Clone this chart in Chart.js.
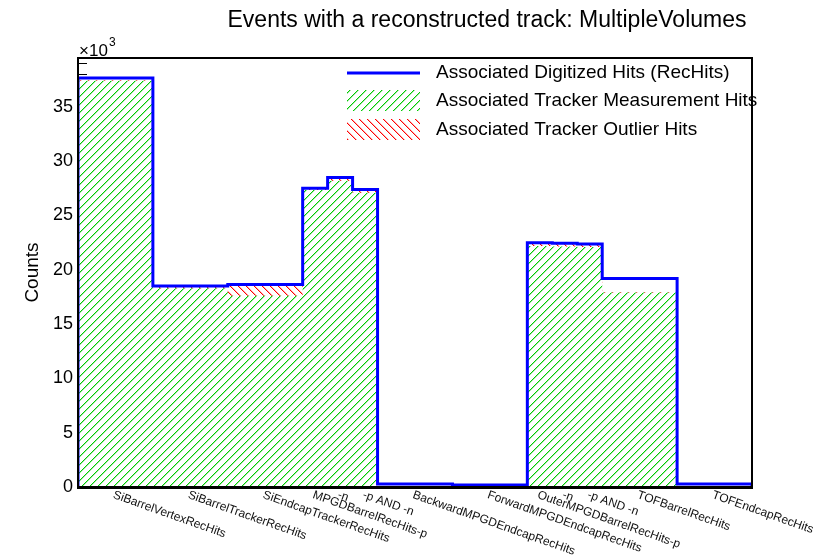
<!DOCTYPE html>
<html>
<head>
<meta charset="utf-8">
<script src="https://cdn.jsdelivr.net/npm/chart.js@4"></script>
<style>
  html, body { margin: 0; padding: 0; background: #fff; }
  #wrap { width: 829px; height: 558px; }
</style>
</head>
<body>
<div id="wrap"><canvas id="myChart" width="829" height="558"></canvas></div>
<script>
var binLabels = ["SiBarrelVertexRecHits", "SiBarrelTrackerRecHits", "SiEndcapTrackerRecHits",
  "MPGDBarrelRecHits-p", "-n", "-p AND -n", "BackwardMPGDEndcapRecHits", "ForwardMPGDEndcapRecHits",
  "OuterMPGDBarrelRecHits-p", "-n", "-p AND -n", "TOFBarrelRecHits", "TOFEndcapRecHits"];
var binEdges = [0, 3, 6, 9, 10, 11, 12, 15, 18, 19, 20, 21, 24, 27];
var recHits = [37660, 18500, 18650, 27500, 28500, 27400, 280, 180, 22500, 22440, 22370, 19200, 280];
var measHits = [37400, 18300, 17600, 27350, 28200, 27100, 0, 0, 22200, 22150, 22100, 17900, 0];
var outlierHits = [60, 150, 1000, 100, 250, 200, 0, 0, 250, 250, 250, 50, 0];
var yTicks = [0, 5000, 10000, 15000, 20000, 25000, 30000, 35000];
var yMax = 39500;

var FONT = "'Liberation Sans', Arial, Helvetica, sans-serif";

// pixel hatch tile, dir > 0 gives "/", dir < 0 gives "\"
function hatch(color, soft, dir, bg) {
  var n = 8;
  var c = document.createElement("canvas");
  c.width = n; c.height = n;
  var g = c.getContext("2d");
  if (bg) { g.fillStyle = bg; g.fillRect(0, 0, n, n); }
  for (var i = 0; i < n; i++) {
    var row = dir > 0 ? n - 1 - i : i;
    g.fillStyle = color;
    g.fillRect(i, row, 1, 1);
    if (soft) {
      g.fillStyle = soft;
      g.fillRect((i + 1) % n, row, 1, 1);
    }
  }
  return g.createPattern(c, "repeat");
}

function steps(values) {
  var pts = [{ x: binEdges[0], y: 0 }];
  values.forEach(function (v, i) { pts.push({ x: binEdges[i], y: v }); });
  pts.push({ x: binEdges[binEdges.length - 1], y: 0 });
  return pts;
}

var greenHatch = hatch("#00cc00", "#a8e8a8", 1, "#ffffff");
var greenHatchLeg = hatch("#00cc00", "#a8e8a8", 1, null);
var redHatch = hatch("#ff0000", "#ffb0b0", -1, null);

var totalOutlier = measHits.map(function (v, i) { return v + outlierHits[i]; });

var rootPlugin = {
  id: "rootStyle",
  beforeDraw: function (chart) {
    var ctx = chart.ctx;
    ctx.save();
    ctx.fillStyle = "#fff";
    ctx.fillRect(0, 0, chart.width, chart.height);
    ctx.restore();
  },
  beforeDatasetsDraw: function (chart) {
    var ctx = chart.ctx, a = chart.chartArea, y = chart.scales.y;
    ctx.save();
    ctx.strokeStyle = "#000";
    ctx.lineWidth = 1;
    for (var v = 1000; v < yMax; v += 1000) {
      var py = Math.round(y.getPixelForValue(v)) + 0.5;
      var len = v % 5000 === 0 ? 18 : 9;
      ctx.beginPath();
      ctx.moveTo(a.left, py);
      ctx.lineTo(a.left + len, py);
      ctx.stroke();
    }
    ctx.restore();
  },
  afterDatasetsDraw: function (chart) {
    var ctx = chart.ctx, a = chart.chartArea, x = chart.scales.x;
    ctx.save();
    // frame
    ctx.strokeStyle = "#000";
    ctx.lineWidth = 2;
    ctx.strokeRect(a.left, a.top, a.right - a.left, a.bottom - a.top);
    ctx.beginPath();
    ctx.lineWidth = 3;
    ctx.moveTo(a.left - 1, a.bottom + 0.5);
    ctx.lineTo(a.right + 1, a.bottom + 0.5);
    ctx.stroke();

    // x labels, rotated, starting at bin centres
    ctx.fillStyle = "#111";
    ctx.font = "12px " + FONT;
    ctx.textAlign = "left";
    ctx.textBaseline = "top";
    binLabels.forEach(function (lab, i) {
      var cx = x.getPixelForValue((binEdges[i] + binEdges[i + 1]) / 2);
      ctx.save();
      ctx.translate(cx, a.bottom + 2);
      ctx.rotate(19.5 * Math.PI / 180);
      ctx.fillText(lab, 0, 0);
      ctx.restore();
    });

    // title
    ctx.fillStyle = "#000";
    ctx.font = "23px " + FONT;
    ctx.textAlign = "center";
    ctx.textBaseline = "alphabetic";
    ctx.fillText("Events with a reconstructed track: MultipleVolumes", 487, 27);

    // exponent
    ctx.textAlign = "left";
    ctx.font = "17px " + FONT;
    ctx.fillText("\u00d710", a.left + 1, 56);
    ctx.font = "12px " + FONT;
    ctx.fillText("3", a.left + 31, 46);

    // legend
    var lx = 347, lw = 73, tx = 436;
    ctx.strokeStyle = "#0000ff";
    ctx.lineWidth = 3;
    ctx.beginPath();
    ctx.moveTo(lx, 73); ctx.lineTo(lx + lw, 73);
    ctx.stroke();
    ctx.fillStyle = greenHatchLeg;
    ctx.fillRect(lx, 90, lw, 21);
    ctx.fillStyle = redHatch;
    ctx.fillRect(lx, 119, lw, 21);
    ctx.fillStyle = "#000";
    ctx.font = "19px " + FONT;
    ctx.textBaseline = "middle";
    ctx.fillText("Associated Digitized Hits (RecHits)", tx, 73);
    ctx.fillText("Associated Tracker Measurement Hits", tx, 101);
    ctx.fillText("Associated Tracker Outlier Hits", tx, 130);
    ctx.restore();
  }
};

var myChart = document.getElementById("myChart").getContext("2d");
var chart = new Chart(myChart, {
  type: "line",
  data: {
    datasets: [
      {
        label: "Associated Digitized Hits (RecHits)",
        data: steps(recHits),
        borderColor: "#0000ff",
        borderWidth: 3,
        fill: false,
        stepped: true,
        pointRadius: 0,
      },
      {
        label: "Associated Tracker Measurement Hits",
        data: steps(measHits),
        borderWidth: 0,
        borderColor: "rgba(0,0,0,0)",
        backgroundColor: greenHatch,
        fill: "origin",
        stepped: true,
        pointRadius: 0,
      },
      {
        label: "Associated Tracker Outlier Hits",
        data: steps(totalOutlier),
        borderWidth: 0,
        borderColor: "rgba(0,0,0,0)",
        backgroundColor: redHatch,
        fill: "origin",
        stepped: true,
        pointRadius: 0,
      },
    ],
  },
  options: {
    responsive: false,
    animation: false,
    layout: { padding: { top: 58, right: 77, bottom: 71, left: 0 } },
    plugins: {
      legend: { display: false },
      title: { display: false },
      tooltip: { enabled: false },
    },
    scales: {
      x: {
        type: "linear",
        min: binEdges[0],
        max: binEdges[binEdges.length - 1],
        display: false,
      },
      y: {
        type: "linear",
        min: 0,
        max: yMax,
        grid: { display: false },
        border: { display: false },
        afterBuildTicks: function (scale) {
          scale.ticks = yTicks.map(function (v) { return { value: v }; });
        },
        afterFit: function (scale) { scale.width = 78; },
        ticks: {
          padding: -3,
          color: "#000",
          font: { family: FONT, size: 18 },
          callback: function (v) { return v / 1000; },
        },
        title: {
          display: true,
          text: "Counts",
          color: "#000",
          font: { family: FONT, size: 19 },
          padding: { top: 21, bottom: 0 },
        },
      },
    },
  },
  plugins: [rootPlugin],
});
</script>
</body>
</html>
